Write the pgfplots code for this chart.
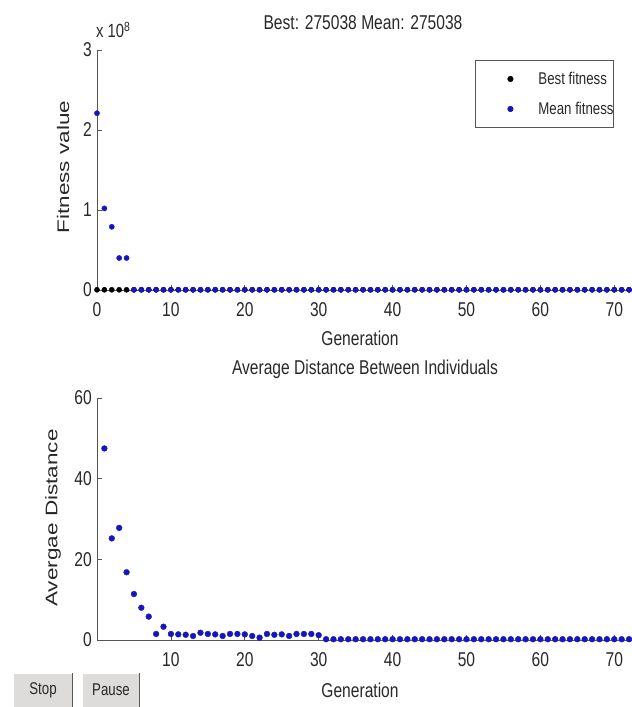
\documentclass[border=0pt]{standalone}
\usepackage{fontspec}
\setmainfont[FakeStretch=0.78]{Liberation Sans}
\newfontfamily\vfont[FakeStretch=1.34]{Liberation Sans}
\usepackage{pgfplots}
\pgfplotsset{compat=1.18}
\definecolor{mblue}{RGB}{22,22,190}
\definecolor{txt}{RGB}{40,40,40}
\definecolor{axc}{RGB}{85,85,85}
\definecolor{btn}{RGB}{222,220,218}

\pgfplotsset{gaaxis/.style={
  scale only axis, width=535pt,
  axis x line=bottom, axis y line=left,
  axis line style={axc,-,line width=0.9pt},
  tick align=inside, major tick length=5pt,
  tick style={axc,line width=0.6pt},
  xmin=0, xmax=72.4, ymin=0,
  ticklabel style={font=\fontsize{20}{24}\selectfont, text=txt},
  /pgf/number format/assume math mode=true,
  xticklabel style={inner sep=0pt, yshift=-12pt},
  yticklabel style={inner sep=0pt, xshift=-5pt},
}}

\begin{document}
\begin{tikzpicture}
\useasboundingbox (0pt,0pt) rectangle (632pt,-707pt);

% top: fitness
\begin{axis}[gaaxis,
  at={(97pt,-290pt)}, anchor=south west, height=240pt,
  ymax=3, ytick={0,1,2,3}, xtick={0,10,...,70},
  scaled y ticks=false,
  legend style={at={(0.7065,0.9583)}, anchor=north west,
    draw=axc, line width=0.9pt, inner xsep=0pt, inner ysep=3.5pt,
    row sep=0pt, font=\fontsize{17}{20}\selectfont, text=txt,
    nodes={inner sep=0pt, minimum height=30pt}},
  legend cell align=left,
  legend image code/.code={%
    \path[draw=none] (0pt,0pt) -- (63pt,0pt);
    \path[#1] plot[only marks] coordinates {(35pt,0pt)};},
]
\addplot[only marks, mark=*, mark size=2.6pt, mark options={draw=black, fill=black}] coordinates {
(0,0.00275)(1,0.00275)(2,0.00275)(3,0.00275)(4,0.00275)(5,0.00275)(6,0.00275)(7,0.00275)(8,0.00275)(9,0.00275)
(10,0.00275)(11,0.00275)(12,0.00275)(13,0.00275)(14,0.00275)(15,0.00275)(16,0.00275)(17,0.00275)(18,0.00275)(19,0.00275)
(20,0.00275)(21,0.00275)(22,0.00275)(23,0.00275)(24,0.00275)(25,0.00275)(26,0.00275)(27,0.00275)(28,0.00275)(29,0.00275)
(30,0.00275)(31,0.00275)(32,0.00275)(33,0.00275)(34,0.00275)(35,0.00275)(36,0.00275)(37,0.00275)(38,0.00275)(39,0.00275)
(40,0.00275)(41,0.00275)(42,0.00275)(43,0.00275)(44,0.00275)(45,0.00275)(46,0.00275)(47,0.00275)(48,0.00275)(49,0.00275)
(50,0.00275)(51,0.00275)(52,0.00275)(53,0.00275)(54,0.00275)(55,0.00275)(56,0.00275)(57,0.00275)(58,0.00275)(59,0.00275)
(60,0.00275)(61,0.00275)(62,0.00275)(63,0.00275)(64,0.00275)(65,0.00275)(66,0.00275)(67,0.00275)(68,0.00275)(69,0.00275)
(70,0.00275)(71,0.00275)(72,0.00275)};
\addlegendentry{Best fitness}
\addplot[only marks, mark=*, mark size=2.6pt, mark options={draw=mblue, fill=mblue}] coordinates {
(0,2.21)(1,1.02)(2,0.79)(3,0.40)(4,0.40)(5,0.00275)(6,0.00275)(7,0.00275)(8,0.00275)(9,0.00275)
(10,0.00275)(11,0.00275)(12,0.00275)(13,0.00275)(14,0.00275)(15,0.00275)(16,0.00275)(17,0.00275)(18,0.00275)(19,0.00275)
(20,0.00275)(21,0.00275)(22,0.00275)(23,0.00275)(24,0.00275)(25,0.00275)(26,0.00275)(27,0.00275)(28,0.00275)(29,0.00275)
(30,0.00275)(31,0.00275)(32,0.00275)(33,0.00275)(34,0.00275)(35,0.00275)(36,0.00275)(37,0.00275)(38,0.00275)(39,0.00275)
(40,0.00275)(41,0.00275)(42,0.00275)(43,0.00275)(44,0.00275)(45,0.00275)(46,0.00275)(47,0.00275)(48,0.00275)(49,0.00275)
(50,0.00275)(51,0.00275)(52,0.00275)(53,0.00275)(54,0.00275)(55,0.00275)(56,0.00275)(57,0.00275)(58,0.00275)(59,0.00275)
(60,0.00275)(61,0.00275)(62,0.00275)(63,0.00275)(64,0.00275)(65,0.00275)(66,0.00275)(67,0.00275)(68,0.00275)(69,0.00275)
(70,0.00275)(71,0.00275)(72,0.00275)};
\addlegendentry{Mean fitness\hspace{10pt}}
\end{axis}

% bottom: average distance
\begin{axis}[gaaxis,
  at={(97pt,-640pt)}, anchor=south west, height=242pt,
  ymax=60, ytick={0,20,40,60}, xtick={10,20,...,70},
]
\addplot[only marks, mark=*, mark size=2.9pt, mark options={draw=mblue, fill=mblue}] coordinates {
(1,47.5)(2,25.2)(3,27.8)(4,16.8)(5,11.4)(6,8.0)(7,5.8)(8,1.5)(9,3.3)
(10,1.5)(11,1.4)(12,1.3)(13,1.0)(14,1.8)(15,1.5)(16,1.4)(17,1.0)(18,1.5)(19,1.5)
(20,1.4)(21,1.0)(22,0.6)(23,1.5)(24,1.3)(25,1.4)(26,1.0)(27,1.5)(28,1.5)(29,1.5)
(30,1.2)(31,0.2)(32,0.2)(33,0.2)(34,0.2)(35,0.2)(36,0.2)(37,0.2)(38,0.2)(39,0.2)
(40,0.2)(41,0.2)(42,0.2)(43,0.2)(44,0.2)(45,0.2)(46,0.2)(47,0.2)(48,0.2)(49,0.2)
(50,0.2)(51,0.2)(52,0.2)(53,0.2)(54,0.2)(55,0.2)(56,0.2)(57,0.2)(58,0.2)(59,0.2)
(60,0.2)(61,0.2)(62,0.2)(63,0.2)(64,0.2)(65,0.2)(66,0.2)(67,0.2)(68,0.2)(69,0.2)
(70,0.2)(71,0.2)(72,0.2)};
\end{axis}

% titles and labels
\begin{scope}[every node/.style={text=txt, inner sep=0pt}]
\node[font=\fontsize{20}{24}\selectfont] at (363pt,-23pt) {Best: 275038 Mean: 275038};
\node[font=\fontsize{19}{22}\selectfont, anchor=west] at (96pt,-30pt) {x 10\textsuperscript{8}};
\node[font=\fontsize{16.8}{20}\vfont, rotate=90] at (63pt,-167pt) {Fitness value};
\node[font=\fontsize{20}{24}\selectfont] at (360pt,-338pt) {Generation};
\node[font=\fontsize{20}{24}\selectfont] at (365pt,-369pt) {Average Distance Between Individuals};
\node[font=\fontsize{16.8}{20}\vfont, rotate=90] at (53pt,-518pt) {Avergae Distance};
\node[font=\fontsize{20}{24}\selectfont] at (360pt,-690pt) {Generation};
\end{scope}

% buttons
\fill[btn] (13pt,-673pt) rectangle (73pt,-707pt);
\draw[gray!70!black, line width=1pt] (72.5pt,-673pt) -- (72.5pt,-707pt);
\draw[white, line width=1pt] (13.5pt,-707pt) -- (13.5pt,-673.5pt) -- (72pt,-673.5pt);
\fill[btn] (82pt,-673pt) rectangle (140pt,-707pt);
\draw[gray!70!black, line width=1pt] (139.5pt,-673pt) -- (139.5pt,-707pt);
\draw[white, line width=1pt] (82.5pt,-707pt) -- (82.5pt,-673.5pt) -- (139pt,-673.5pt);
\node[font=\fontsize{17}{20}\selectfont, text=txt] at (43pt,-690pt) {Stop};
\node[font=\fontsize{17}{20}\selectfont, text=txt] at (111pt,-690pt) {Pause};
\end{tikzpicture}
\end{document}
